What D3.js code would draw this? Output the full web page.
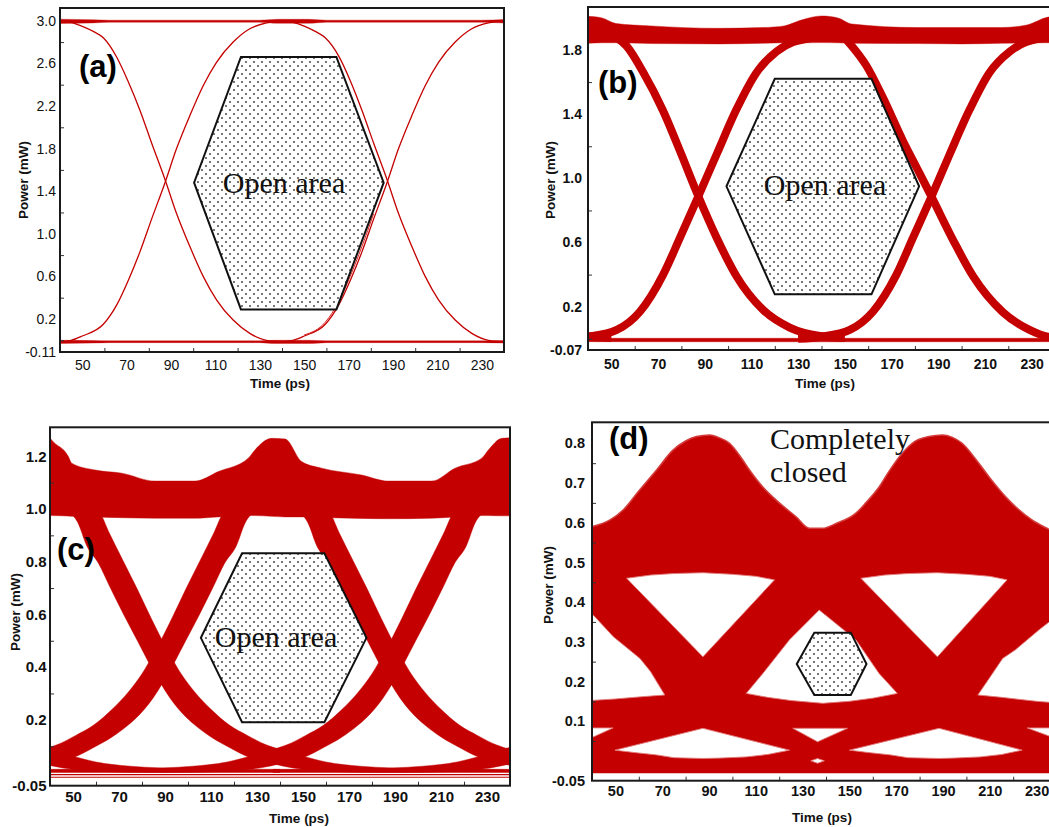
<!DOCTYPE html>
<html>
<head>
<meta charset="utf-8">
<script src="https://cdn.jsdelivr.net/npm/d3@7/dist/d3.min.js"></script>
<style>
  html, body { margin: 0; padding: 0; background: #fff; }
  svg { display: block; }
</style>
</head>
<body>
<svg id="fig" width="1049" height="827"></svg>
<script>
// ---------------- shared axis values ----------------
const timeLabels = ["50","70","90","110","130","150","170","190","210","230"];
const timeMinor  = [60, 80, 100, 120, 140, 160, 180, 200, 220];

// ---------------- (a) back-to-back: thin, clean traces ----------------
const aPowerLabels = ["3.0","2.6","2.2","1.8","1.4","1.0","0.6","0.2","-0.11"];
const aPowerMinor  = [2.8, 2.4, 2.0, 1.6, 1.2, 0.8, 0.4, 0.0];
// rails: [time, low, high]
const aTopRail = [[40,2.975,3.015],[55,2.98,3.01],[62,2.986,3.006],[130,2.986,3.006],[138,2.976,3.014],[152,2.976,3.014],[160,2.986,3.006],[230,2.986,3.006],[240,2.978,3.012]];
const aBottomRail = [[40,-0.03,0.0],[55,-0.026,-0.002],[62,-0.022,-0.005],[130,-0.022,-0.005],[137,-0.03,0.0],[152,-0.03,0.0],[160,-0.022,-0.005],[230,-0.022,-0.005],[240,-0.026,-0.002]];
// transitions: [time, power]
const aFall1 = [[40,3.0],[45,2.985],[49.8,2.95],[55,2.9],[59.5,2.84],[65.5,2.66],[70.7,2.43],[76,2.16],[81.3,1.85],[87.3,1.51],[92.5,1.19],[98.5,0.88],[104.5,0.6],[110.5,0.38],[118,0.19],[125.5,0.065],[133,0.0],[140.5,-0.012]];
const aRise1 = [[40,-0.012],[45,0.0],[50,0.04],[59.5,0.15],[65.5,0.33],[70.7,0.56],[76,0.83],[81.3,1.14],[87.3,1.48],[92.5,1.8],[98.5,2.11],[104.5,2.39],[110.5,2.61],[118,2.8],[125.5,2.925],[133,2.98],[140.5,3.0]];
const aFall2 = [[140.5,3.0],[145,2.985],[150,2.95],[155,2.9],[159.5,2.84],[165.5,2.67],[170.7,2.44],[176,2.16],[181.3,1.85],[187.3,1.51],[192.5,1.19],[198.5,0.88],[204.5,0.6],[210.5,0.38],[218,0.19],[225.5,0.065],[233,0.0],[240,-0.012]];
const aRise2 = [[140.5,-0.012],[145,0.0],[150,0.04],[159.5,0.15],[165.5,0.33],[170.7,0.56],[176,0.83],[181.3,1.14],[187.3,1.48],[192.5,1.8],[198.5,2.11],[204.5,2.39],[210.5,2.61],[218,2.8],[225.5,2.925],[233,2.98],[240,3.0]];
const aRise2b = [[150,0.05],[159.5,0.17],[165.5,0.36],[170.7,0.6],[176,0.88],[181.3,1.19]];
const aOpenArea = [[121.5,2.66],[164.5,2.66],[185.8,1.48],[164.5,0.29],[121.5,0.29],[100.4,1.48]];

// ---------------- (b) ----------------
const bPowerLabels = ["1.8","1.4","1.0","0.6","0.2","-0.07"];
const bPowerMinor  = [1.6, 1.2, 0.8, 0.4, 0.0];
const bTopBand = [[40,1.842,2.01],[46,1.845,2.0],[52,1.845,1.965],[67,1.84,1.95],[96,1.838,1.935],[115,1.842,1.94],[124,1.845,1.95],[131,1.845,1.985],[140,1.846,2.012],[147,1.845,2.0],[153,1.842,1.962],[181,1.84,1.94],[200,1.838,1.94],[217,1.842,1.94],[228,1.845,1.956],[237,1.845,2.005],[240,1.845,2.01]];
const bBottomRail = [[40,-0.018,0.003],[140,-0.019,0.003],[240,-0.018,0.003]];
const bFall0 = [[26.4,0.07],[39.3,0.017],[50,0.005]];
const bFall1 = [[46,1.93],[52,1.88],[56.5,1.825],[63.7,1.66],[72.2,1.42],[79.4,1.17],[87.2,0.89],[95.1,0.63],[103.6,0.39],[115,0.18],[126.4,0.07],[139.3,0.017],[150,0.005]];
const bRise1 = [[30,0.0],[40.1,0.013],[52.3,0.055],[62.3,0.17],[72.2,0.4],[79.4,0.63],[87.2,0.886],[95.1,1.15],[103.6,1.43],[112.2,1.66],[120.7,1.79],[127.9,1.85],[139.3,1.88]];
const bFall2 = [[146,1.93],[152.1,1.84],[159.3,1.7],[166.4,1.5],[175,1.23],[181,1.06],[187.1,0.886],[196.3,0.617],[204.9,0.39],[217.7,0.165],[229.1,0.055],[237,0.013],[250,0.0]];
const bRise2 = [[130,0.0],[139.9,0.013],[152.1,0.055],[162.1,0.17],[172.1,0.4],[179.2,0.63],[187.1,0.886],[194.9,1.15],[203.5,1.43],[212,1.66],[220.6,1.79],[227.7,1.85],[239,1.88]];
const bOpenArea = [[120,1.62],[161.4,1.62],[181.8,0.95],[161.4,0.277],[120,0.277],[99.3,0.95]];

// ---------------- (c) ----------------
const cPowerLabels = ["1.2","1.0","0.8","0.6","0.4","0.2","-0.05"];
const cPowerMinor  = [1.1, 0.9, 0.7, 0.5, 0.3, 0.1];
const cTopBand = [[40,0.975,1.27],[40.7,0.975,1.262],[48,0.973,1.199],[49.4,0.972,1.174],[59.6,0.97,1.148],[71.2,0.967,1.136],[85.7,0.965,1.106],[103,0.965,1.106],[113.2,0.97,1.142],[126.2,0.975,1.193],[129.1,0.975,1.224],[136.4,0.972,1.268],[142.2,0.97,1.266],[149.4,0.97,1.18],[158.1,0.968,1.155],[175.5,0.964,1.129],[187.1,0.963,1.106],[206,0.965,1.106],[216.1,0.97,1.155],[227.7,0.975,1.193],[230.6,0.975,1.224],[236.4,0.974,1.268],[240,0.974,1.27]];
const cFall0 = [[34,0.04,0.105],[41,0.025,0.085],[50,0.012,0.062],[60,0.005,0.04],[75,0.001,0.024],[100,0.0,0.015],[140,0.0,0.012]];
const cFall1 = [[48,0.99,1.03],[52,0.95,1.03],[56,0.86,1.02],[61,0.795,0.995],[66,0.705,0.905],[72,0.6,0.8],[78,0.5,0.695],[84,0.4,0.585],[88,0.34,0.515],[92,0.285,0.45],[97,0.23,0.375],[103,0.18,0.305],[110,0.135,0.24],[118,0.095,0.18],[126,0.06,0.14],[134,0.04,0.105],[141,0.025,0.085],[150,0.012,0.062],[160,0.005,0.04],[175,0.001,0.024],[200,0.0,0.015],[240,0.0,0.012]];
const cRise1 = [[27,0.012,0.062],[36,0.025,0.085],[43,0.04,0.105],[51,0.06,0.14],[59,0.095,0.18],[67,0.135,0.24],[74,0.18,0.305],[80,0.23,0.375],[85,0.285,0.45],[89,0.34,0.515],[93,0.4,0.585],[99,0.5,0.695],[105,0.6,0.8],[111,0.705,0.905],[116,0.795,0.995],[121,0.86,1.02],[125,0.95,1.03],[129,0.99,1.03]];
const cFall2 = [[148,0.99,1.03],[152,0.95,1.03],[156,0.86,1.02],[161,0.795,0.995],[166,0.705,0.905],[172,0.6,0.8],[178,0.5,0.695],[184,0.4,0.585],[188,0.34,0.515],[192,0.285,0.45],[197,0.23,0.375],[203,0.18,0.305],[210,0.135,0.24],[218,0.095,0.18],[226,0.06,0.14],[234,0.04,0.105],[241,0.025,0.085]];
const cRise2 = [[37,0.0,0.012],[77,0.0,0.015],[102,0.001,0.024],[117,0.005,0.04],[127,0.012,0.062],[136,0.025,0.085],[143,0.04,0.105],[151,0.06,0.14],[159,0.095,0.18],[167,0.135,0.24],[174,0.18,0.305],[180,0.23,0.375],[185,0.285,0.45],[189,0.34,0.515],[193,0.4,0.585],[199,0.5,0.695],[205,0.6,0.8],[211,0.705,0.905],[216,0.795,0.995],[221,0.86,1.02],[225,0.95,1.03],[229,0.99,1.03]];
const cRise3 = [[137,0.0,0.012],[177,0.0,0.015],[202,0.001,0.024],[217,0.005,0.04],[227,0.012,0.062],[236,0.025,0.085],[243,0.04,0.105]];
const cFloorLines = [-0.008, -0.018];
const cOpenArea = [[123.5,0.832],[159.3,0.832],[177.6,0.511],[159.3,0.191],[123.5,0.191],[105.6,0.511]];

// ---------------- (d) ----------------
const dPowerLabels = ["0.8","0.7","0.6","0.5","0.4","0.3","0.2","0.1","-0.05"];
const dPowerMinor  = [0.75, 0.65, 0.55, 0.45, 0.35, 0.25, 0.15, 0.05];
// outer envelope of all traces (top outline), floor of the lowest trace
const dEnvelope = [[40,0.59],[47.7,0.607],[53.3,0.632],[60,0.68],[67.6,0.733],[74.6,0.783],[80,0.806],[84.6,0.817],[90.3,0.821],[94,0.815],[98.8,0.8],[103,0.77],[107.3,0.733],[113,0.69],[118.7,0.657],[127.2,0.615],[132.9,0.586],[138.6,0.586],[144.3,0.598],[152.8,0.624],[157,0.65],[162.7,0.69],[167,0.73],[172.6,0.775],[178,0.805],[184,0.817],[189.7,0.821],[194,0.815],[198.2,0.8],[204,0.76],[209.6,0.716],[218.1,0.657],[228,0.607],[234.4,0.586],[240,0.57]];
const dFloor = -0.031;
// regions no trace passes through
const dGapUpper1 = [[54.8,0.46],[65,0.468],[75,0.472],[87.4,0.474],[100,0.47],[110,0.465],[118,0.456],[87.4,0.262]];
const dGapUpper2 = [[154.9,0.46],[165,0.468],[175,0.472],[187.6,0.474],[200,0.47],[210,0.465],[217.4,0.456],[187.6,0.262]];
const dGapCenter = [[137.1,0.38],[152.8,0.305],[162.7,0.22],[170.5,0.17],[160,0.158],[150,0.15],[138.6,0.145],[125,0.152],[115,0.16],[105.9,0.17],[113,0.22],[124.4,0.305]];
const dGapLeft = [[39,0.372],[40.6,0.367],[49.1,0.313],[60.5,0.258],[65,0.225],[71.1,0.166],[60,0.161],[50,0.156],[39,0.152]];
const dGapRight = [[204.9,0.166],[210,0.21],[215.5,0.258],[221,0.28],[231,0.33],[235.4,0.35],[241,0.372],[241,0.145],[230,0.15],[215,0.16]];
const dGapLow1 = [[49.8,0.027],[87.4,0.082],[124.4,0.027],[115,0.016],[105.9,0.01],[95,0.007],[87.4,0.006],[75,0.008],[67.6,0.015],[58,0.021]];
const dGapLow2 = [[150,0.027],[188.3,0.082],[223.8,0.027],[215,0.016],[205.9,0.01],[195,0.007],[188.3,0.006],[175,0.008],[167.6,0.015],[158,0.021]];
const dGapMid = [[125.8,0.082],[149.2,0.082],[136.4,0.048]];
const dGapDot = [[133.5,0.0],[136.4,0.006],[139.3,0.0],[136.4,-0.006]];
const dGapEdgeL = [[39,0.083],[49,0.083],[39,0.056]];
const dGapEdgeR = [[226,0.083],[241,0.083],[241,0.05]];
const dOpenArea = [[135,0.323],[150.6,0.323],[157.3,0.244],[150.6,0.166],[135,0.166],[127.5,0.244]];

// ---------------- drawing ----------------
const RED = "#c40000";
const SANS = "'Liberation Sans', Arial, Helvetica, sans-serif";
const SERIF = "'Liberation Serif', 'Times New Roman', serif";

const svg = d3.select("#fig");
const defs = svg.append("defs");

// dot screen for the open-eye masks
const pat = defs.append("pattern").attr("id", "dotScreen")
  .attr("patternUnits", "userSpaceOnUse").attr("width", 8).attr("height", 8);
pat.append("rect").attr("width", 8).attr("height", 8).attr("fill", "#fff");
pat.append("circle").attr("cx", 2).attr("cy", 2).attr("r", 0.95).attr("fill", "#3c3c3c");
pat.append("circle").attr("cx", 6).attr("cy", 6).attr("r", 0.95).attr("fill", "#3c3c3c");

function makePanel(cfg) {
  const x = d3.scaleLinear().domain([40, 240]).range([cfg.left, cfg.right]);
  const y = d3.scaleLinear().domain(cfg.pDomain).range([cfg.bottom, cfg.top]);
  defs.append("clipPath").attr("id", "clip-" + cfg.id).append("rect")
    .attr("x", cfg.left).attr("y", cfg.top)
    .attr("width", cfg.right - cfg.left).attr("height", cfg.bottom - cfg.top);
  const root = svg.append("g");
  const plot = root.append("g").attr("clip-path", `url(#clip-${cfg.id})`);
  return { cfg, x, y, root, plot };
}

function band(p, rows, opts = {}) {
  const area = d3.area().curve(d3.curveMonotoneX)
    .x(d => p.x(d[0])).y0(d => p.y(d[1])).y1(d => p.y(d[2]));
  p.plot.append("path").attr("d", area(rows))
    .attr("fill", RED)
    .attr("stroke", opts.edge || RED).attr("stroke-width", opts.edgeWidth ?? 0.8)
    .attr("stroke-opacity", opts.edgeOpacity ?? 0.55);
}

function trace(p, pts, width, color = RED) {
  const line = d3.line().curve(d3.curveMonotoneX).x(d => p.x(d[0])).y(d => p.y(d[1]));
  p.plot.append("path").attr("d", line(pts)).attr("fill", "none")
    .attr("stroke", color).attr("stroke-width", width).attr("stroke-linejoin", "round");
}

function region(p, pts, fill, stroke, sw) {
  const line = d3.line().curve(d3.curveLinearClosed).x(d => p.x(d[0])).y(d => p.y(d[1]));
  p.plot.append("path").attr("d", line(pts)).attr("fill", fill)
    .attr("stroke", stroke || "none").attr("stroke-width", sw || 0);
}

function openArea(p, pts, sw) {
  const line = d3.line().curve(d3.curveLinearClosed).x(d => p.x(d[0])).y(d => p.y(d[1]));
  p.plot.append("path").attr("d", line(pts)).attr("fill", "url(#dotScreen)")
    .attr("stroke", "#111").attr("stroke-width", sw).attr("stroke-linejoin", "miter");
}

function finishPanel(p, labels, minor, st) {
  const { cfg, x, y, root } = p;
  // inward minor ticks
  const xt = root.append("g").attr("transform", `translate(0,${cfg.bottom})`)
    .call(d3.axisBottom(x).tickValues(timeMinor).tickSize(-4).tickFormat(""));
  xt.select(".domain").remove();
  xt.selectAll("line").attr("stroke", "#333");
  const yt = root.append("g").attr("transform", `translate(${cfg.left},0)`)
    .call(d3.axisLeft(y).tickValues(minor).tickSize(-4).tickFormat(""));
  yt.select(".domain").remove();
  yt.selectAll("line").attr("stroke", "#333");

  // tick labels
  const xl = root.append("g").attr("transform", `translate(0,${cfg.bottom})`)
    .call(d3.axisBottom(x).tickValues(timeLabels.map(Number)).tickSize(0)
      .tickPadding(st.xPad).tickFormat((d, i) => timeLabels[i]));
  xl.select(".domain").remove();
  xl.selectAll("text").attr("font-family", SANS).attr("font-size", st.fs)
    .attr("font-weight", st.weight).attr("fill", "#111");
  const yl = root.append("g").attr("transform", `translate(${cfg.left},0)`)
    .call(d3.axisLeft(y).tickValues(labels.map(Number)).tickSize(0)
      .tickPadding(st.yPad).tickFormat((d, i) => labels[i]));
  yl.select(".domain").remove();
  yl.selectAll("text").attr("font-family", SANS).attr("font-size", st.fs)
    .attr("font-weight", st.weight).attr("fill", "#111");

  // frame
  root.append("rect").attr("x", cfg.left).attr("y", cfg.top)
    .attr("width", cfg.right - cfg.left).attr("height", cfg.bottom - cfg.top)
    .attr("fill", "none").attr("stroke", "#1a1a1a").attr("stroke-width", 2);

  // axis titles
  root.append("text").attr("x", st.xTitle[0]).attr("y", st.xTitle[1])
    .attr("text-anchor", "middle").attr("font-family", SANS).attr("font-weight", "bold")
    .attr("font-size", 13.5).attr("fill", "#111").text("Time (ps)");
  root.append("text")
    .attr("transform", `translate(${st.yTitle[0]},${st.yTitle[1]}) rotate(-90)`)
    .attr("text-anchor", "middle").attr("font-family", SANS).attr("font-weight", "bold")
    .attr("font-size", 13.5).attr("fill", "#111").text("Power (mW)");

  // panel letter
  root.append("text").attr("x", st.tag[0]).attr("y", st.tag[1])
    .attr("font-family", SANS).attr("font-weight", "bold").attr("font-size", 31)
    .attr("fill", "#000").text(st.tagText);
}

function caption(p, lines, x0, y0, anchor, lh) {
  const t = p.root.append("text").attr("font-family", SERIF).attr("font-size", 30)
    .attr("fill", "#111").attr("text-anchor", anchor);
  lines.forEach((s, i) => t.append("tspan").attr("x", x0).attr("y", y0 + i * lh).text(s));
}

// ----- panel (a)
const pa = makePanel({ id: "a", left: 60, right: 504, top: 8, bottom: 352, pDomain: [-0.11, 3.12] });
band(pa, aTopRail, { edgeWidth: 0.6 });
band(pa, aBottomRail, { edgeWidth: 0.6 });
[aFall1, aRise1, aFall2, aRise2].forEach(s => trace(pa, s, 1.3));
trace(pa, aRise2b, 1.0, "#d22");
openArea(pa, aOpenArea, 2);
caption(pa, ["Open area"], 284, 193, "middle", 0);
finishPanel(pa, aPowerLabels, aPowerMinor, {
  fs: 14, weight: "normal", xPad: 8.5, yPad: 4,
  xTitle: [280, 388], yTitle: [28, 180], tag: [79, 77], tagText: "(a)"
});

// ----- panel (b)
const pb = makePanel({ id: "b", left: 588, right: 1055, top: 7, bottom: 350, pDomain: [-0.07, 2.068] });
band(pb, bBottomRail);
[bFall0, bFall1, bRise1, bFall2, bRise2].forEach(s => trace(pb, s, 8));
band(pb, bTopBand);
openArea(pb, bOpenArea, 2);
caption(pb, ["Open area"], 825, 195, "middle", 0);
finishPanel(pb, bPowerLabels, bPowerMinor, {
  fs: 14, weight: "bold", xPad: 9, yPad: 6,
  xTitle: [825, 388], yTitle: [555, 180], tag: [598, 93], tagText: "(b)"
});

// ----- panel (c)
const pc = makePanel({ id: "c", left: 50, right: 510, top: 427.3, bottom: 785.7, pDomain: [-0.05, 1.31] });
cFloorLines.forEach(v => trace(pc, [[40, v], [240, v]], 1.2));
[cFall0, cRise1, cFall1, cRise2, cFall2, cRise3].forEach(s => band(pc, s));
band(pc, cTopBand);
openArea(pc, cOpenArea, 2);
caption(pc, ["Open area"], 276, 647, "middle", 0);
finishPanel(pc, cPowerLabels, cPowerMinor, {
  fs: 15, weight: "bold", xPad: 5.5, yPad: 3.5,
  xTitle: [299, 823], yTitle: [20, 612], tag: [57, 560], tagText: "(c)"
});

// ----- panel (d)
const pd = makePanel({ id: "d", left: 592, right: 1060, top: 422.3, bottom: 780.7, pDomain: [-0.05, 0.853] });
{
  const env = d3.area().curve(d3.curveMonotoneX)
    .x(d => pd.x(d[0])).y0(pd.y(dFloor)).y1(d => pd.y(d[1]));
  pd.plot.append("path").attr("d", env(dEnvelope)).attr("fill", RED);
  trace(pd, dEnvelope, 1.6, "#d43c3c");
  [dGapUpper1, dGapUpper2, dGapCenter, dGapLeft, dGapRight, dGapLow1, dGapLow2,
   dGapMid, dGapDot, dGapEdgeL, dGapEdgeR]
    .forEach(g => region(pd, g, "#fff", "#e27a7a", 0.9));
}
openArea(pd, dOpenArea, 2);
caption(pd, ["Completely", "closed"], 770, 449, "start", 33);
finishPanel(pd, dPowerLabels, dPowerMinor, {
  fs: 14.5, weight: "bold", xPad: 5.5, yPad: 7,
  xTitle: [822, 822], yTitle: [553, 585], tag: [609, 449], tagText: "(d)"
});
</script>
</body>
</html>
